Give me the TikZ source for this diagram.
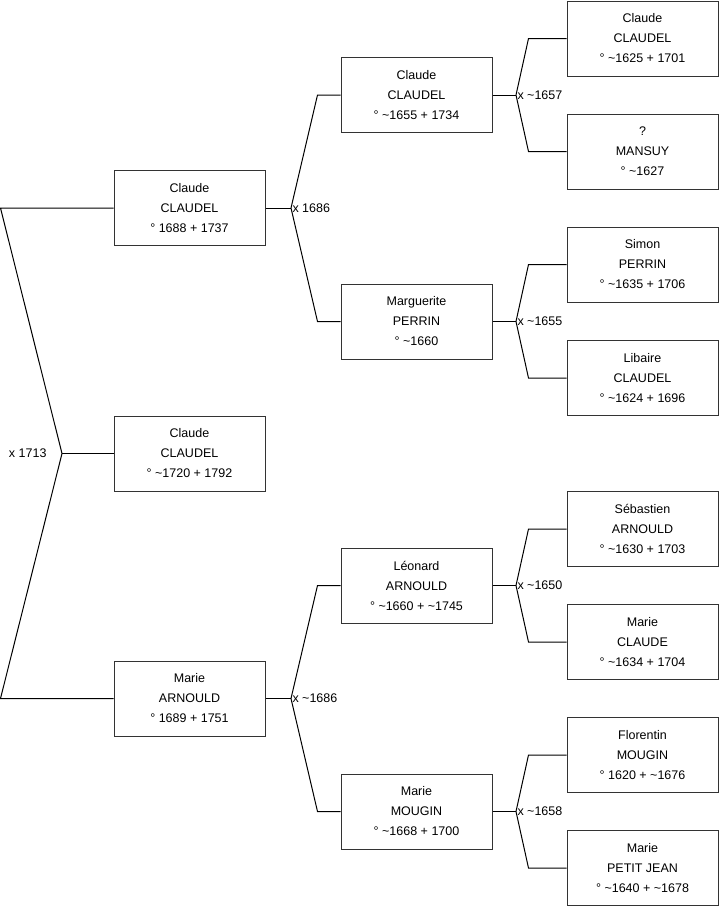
\documentclass[tikz,border=0pt]{standalone}
\usepackage{fontspec}
\setmainfont{Liberation Sans}
\usepackage{tikz}
\usetikzlibrary{positioning,calc}

\begin{document}
\begin{tikzpicture}[
  x=1pt, y=-1pt,
  line width=1pt,
  every node/.style={align=center},
  person/.style = {draw=black!80, minimum width=151pt, minimum height=75pt,
                   inner sep=0pt, font=\fontsize{12.5}{20}\selectfont},
  wed/.style    = {inner sep=1pt, font=\fontsize{12.5}{14}\selectfont}
]
\useasboundingbox (0,0) rectangle (719,908);

% generation 1
\node[person] (me) at (189.5, 453.5) {Claude\\CLAUDEL\\° \textasciitilde1720 + 1792};
% generation 2
\node[person] (fa) at (189.5, 208) {Claude\\CLAUDEL\\° 1688 + 1737};
\node[person] (mo) at (189.5, 698.5) {Marie\\ARNOULD\\° 1689 + 1751};
% generation 3
\node[person] (ff) at (416.5, 95) {Claude\\CLAUDEL\\° \textasciitilde1655 + 1734};
\node[person] (fm) at (416.5, 321.5) {Marguerite\\PERRIN\\° \textasciitilde1660};
\node[person] (mf) at (416.5, 585.5) {Léonard\\ARNOULD\\° \textasciitilde1660 + \textasciitilde1745};
\node[person] (mm) at (416.5, 811.5) {Marie\\MOUGIN\\° \textasciitilde1668 + 1700};
% generation 4
\node[person] (fff) at (642.5, 38.5) {Claude\\CLAUDEL\\° \textasciitilde1625 + 1701};
\node[person] (ffm) at (642.5, 151.5) {?\\MANSUY\\° \textasciitilde1627};
\node[person] (fmf) at (642.5, 264.5) {Simon\\PERRIN\\° \textasciitilde1635 + 1706};
\node[person] (fmm) at (642.5, 378) {Libaire\\CLAUDEL\\° \textasciitilde1624 + 1696};
\node[person] (mff) at (642.5, 529) {Sébastien\\ARNOULD\\° \textasciitilde1630 + 1703};
\node[person] (mfm) at (642.5, 642) {Marie\\CLAUDE\\° \textasciitilde1634 + 1704};
\node[person] (mmf) at (642.5, 755) {Florentin\\MOUGIN\\° 1620 + \textasciitilde1676};
\node[person] (mmm) at (642.5, 868) {Marie\\PETIT JEAN\\° \textasciitilde1640 + \textasciitilde1678};

% couples
\coordinate (j0) at (62, 453.5);
\coordinate (faEnd) at (0.5, 208);
\coordinate (moEnd) at (0.5, 698.5);
\draw (fa.west) -- (faEnd) -- (j0) -- (moEnd) -- (mo.west);
\draw (j0) -- (me.west);
\node[wed, anchor=east] at ($(j0)+(-14,0)$) {x 1713};

\coordinate (j1) at (291, 208);
\draw (fa.east) -- (j1);
\draw (j1) -- ([xshift=-23pt]ff.west) -- (ff.west);
\draw (j1) -- ([xshift=-23pt]fm.west) -- (fm.west);
\node[wed, anchor=west] at (j1) {x 1686};

\coordinate (j2) at (291, 698.5);
\draw (mo.east) -- (j2);
\draw (j2) -- ([xshift=-23pt]mf.west) -- (mf.west);
\draw (j2) -- ([xshift=-23pt]mm.west) -- (mm.west);
\node[wed, anchor=west] at (j2) {x \textasciitilde1686};

\coordinate (j3) at (516, 95);
\draw (ff.east) -- (j3);
\draw (j3) -- ([xshift=-38pt]fff.west) -- (fff.west);
\draw (j3) -- ([xshift=-38pt]ffm.west) -- (ffm.west);
\node[wed, anchor=west] at (j3) {x \textasciitilde1657};

\coordinate (j4) at (516, 321.5);
\draw (fm.east) -- (j4);
\draw (j4) -- ([xshift=-38pt]fmf.west) -- (fmf.west);
\draw (j4) -- ([xshift=-38pt]fmm.west) -- (fmm.west);
\node[wed, anchor=west] at (j4) {x \textasciitilde1655};

\coordinate (j5) at (516, 585.5);
\draw (mf.east) -- (j5);
\draw (j5) -- ([xshift=-38pt]mff.west) -- (mff.west);
\draw (j5) -- ([xshift=-38pt]mfm.west) -- (mfm.west);
\node[wed, anchor=west] at (j5) {x \textasciitilde1650};

\coordinate (j6) at (516, 811.5);
\draw (mm.east) -- (j6);
\draw (j6) -- ([xshift=-38pt]mmf.west) -- (mmf.west);
\draw (j6) -- ([xshift=-38pt]mmm.west) -- (mmm.west);
\node[wed, anchor=west] at (j6) {x \textasciitilde1658};
\end{tikzpicture}
\end{document}
